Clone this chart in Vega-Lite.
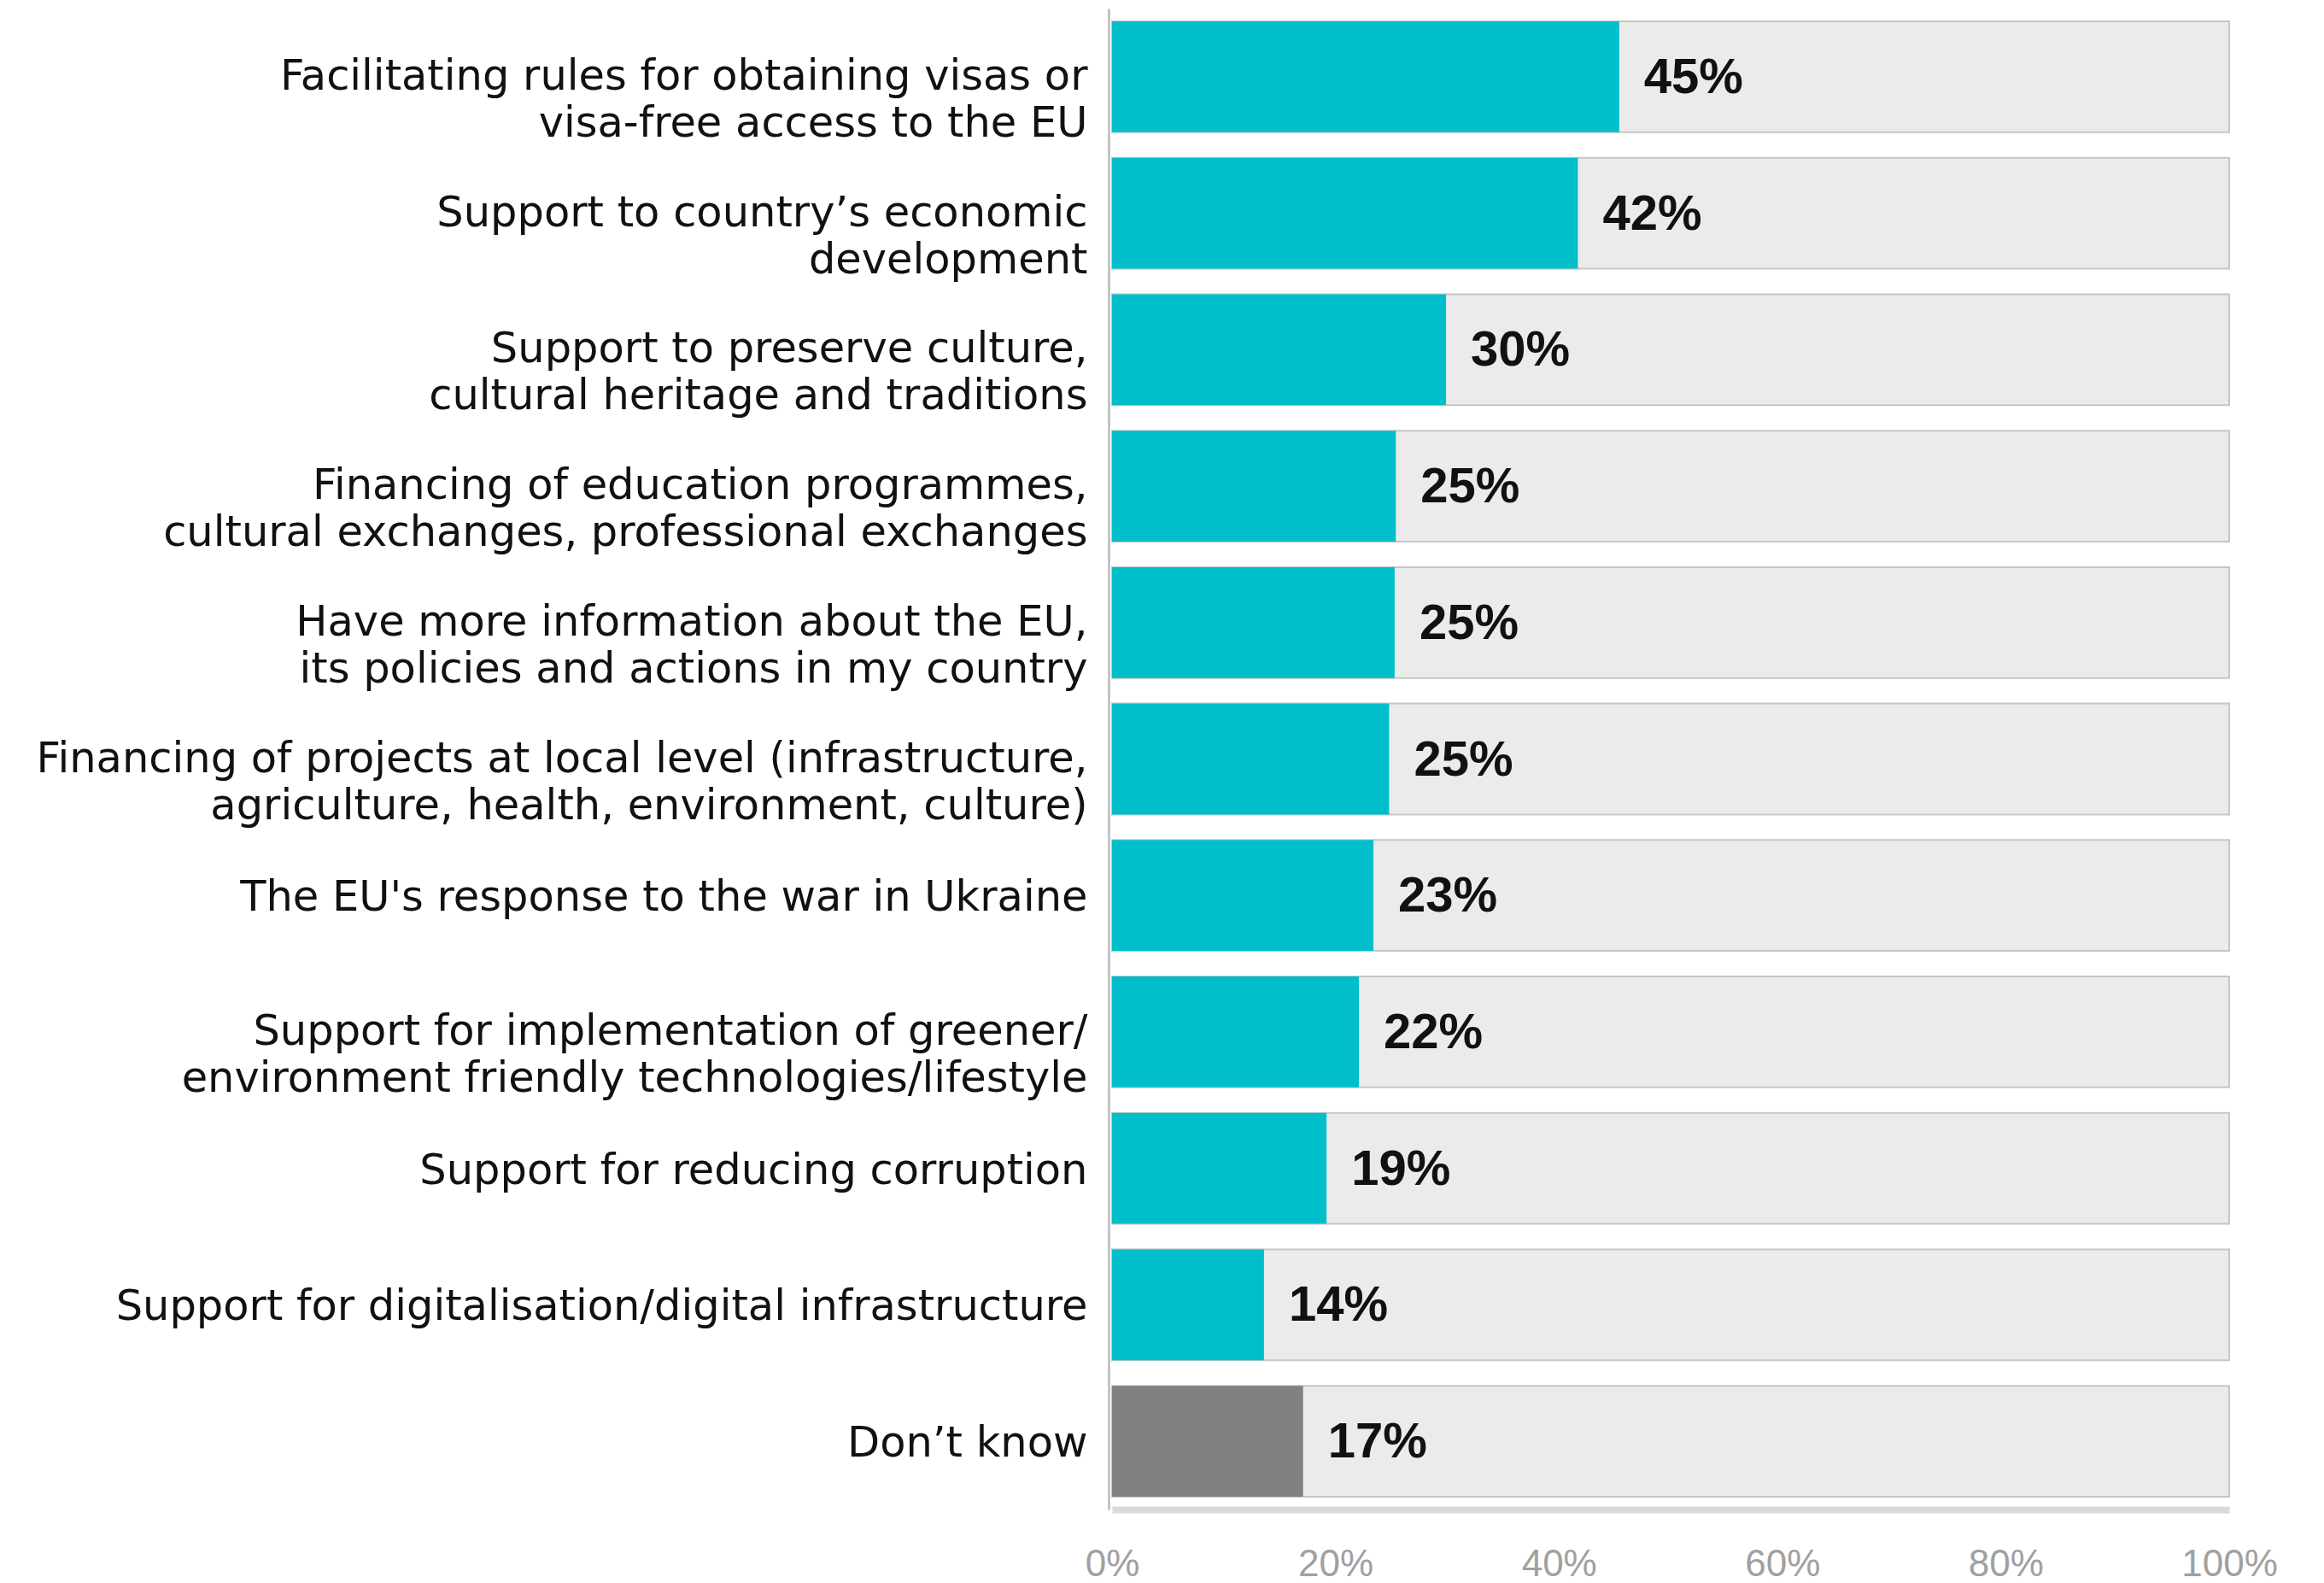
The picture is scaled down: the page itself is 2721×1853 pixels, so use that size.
{
  "$schema": "https://vega.github.io/schema/vega-lite/v6.json",
  "width": 1308,
  "height": 1757,
  "autosize": {"type": "none"},
  "padding": {"left": 1302, "top": 10, "right": 111, "bottom": 86},
  "background": "white",
  "config": {"view": {"stroke": null}},
  "data": {
    "values": [
      {"item": "Facilitating rules for obtaining visas or|visa-free access to the EU", "pct": 45.4, "label": "45%", "group": "answer"},
      {"item": "Support to country’s economic|development", "pct": 41.7, "label": "42%", "group": "answer"},
      {"item": "Support to preserve culture,|cultural heritage and traditions", "pct": 29.9, "label": "30%", "group": "answer"},
      {"item": "Financing of education programmes,|cultural exchanges, professional exchanges", "pct": 25.4, "label": "25%", "group": "answer"},
      {"item": "Have more information about the EU,|its policies and actions in my country", "pct": 25.3, "label": "25%", "group": "answer"},
      {"item": "Financing of projects at local level (infrastructure,|agriculture, health, environment, culture)", "pct": 24.8, "label": "25%", "group": "answer"},
      {"item": "The EU's response to the war in Ukraine", "pct": 23.4, "label": "23%", "group": "answer"},
      {"item": "Support for implementation of greener/|environment friendly technologies/lifestyle", "pct": 22.1, "label": "22%", "group": "answer"},
      {"item": "Support for reducing corruption", "pct": 19.2, "label": "19%", "group": "answer"},
      {"item": "Support for digitalisation/digital infrastructure", "pct": 13.6, "label": "14%", "group": "answer"},
      {"item": "Don’t know", "pct": 17.1, "label": "17%", "group": "dontknow"}
    ]
  },
  "encoding": {
    "y": {
      "field": "item",
      "type": "nominal",
      "sort": null,
      "scale": {"paddingInner": 0.1875, "paddingOuter": 0.094},
      "axis": {
        "title": null,
        "ticks": false,
        "domainColor": "#c4c4c4",
        "domainWidth": 3,
        "offset": 4,
        "labelPadding": 25,
        "labelFont": "DejaVu Sans",
        "labelFontWeight": "normal",
        "labelFontSize": 49.5,
        "labelColor": "#111111",
        "labelLimit": 1400,
        "labelLineHeight": 55,
        "labelBaseline": "middle",
        "labelExpr": "split(datum.label, '|')",
        "labelOffset": {"condition": {"test": "indexof(datum.value, '|') >= 0", "value": 0}, "value": 3}
      }
    }
  },
  "layer": [
    {
      "mark": {"type": "bar", "fill": "#ebebeb", "stroke": "#c6c6c6", "strokeWidth": 2},
      "encoding": {
        "x": {
          "datum": 100,
          "type": "quantitative",
          "scale": {"domain": [0, 100]},
          "axis": {
            "title": null,
            "values": [0, 20, 40, 60, 80, 100],
            "labelExpr": "datum.value + '%'",
            "ticks": false,
            "grid": false,
            "domainColor": "#dadada",
            "domainWidth": 8,
            "labelPadding": 42,
            "labelFlush": false,
            "labelFont": "Liberation Sans",
            "labelFontSize": 44,
            "labelColor": "#a0a0a0"
          }
        }
      }
    },
    {
      "mark": {"type": "bar"},
      "encoding": {
        "x": {"field": "pct", "type": "quantitative"},
        "color": {
          "field": "group",
          "type": "nominal",
          "scale": {"domain": ["answer", "dontknow"], "range": ["#00bfca", "#808080"]},
          "legend": null
        }
      }
    },
    {
      "mark": {"type": "text", "align": "left", "baseline": "middle", "dx": 29, "dy": 2, "font": "Liberation Sans", "fontWeight": "bold", "fontSize": 58, "color": "#111111"},
      "encoding": {
        "x": {"field": "pct", "type": "quantitative"},
        "text": {"field": "label"}
      }
    }
  ]
}
